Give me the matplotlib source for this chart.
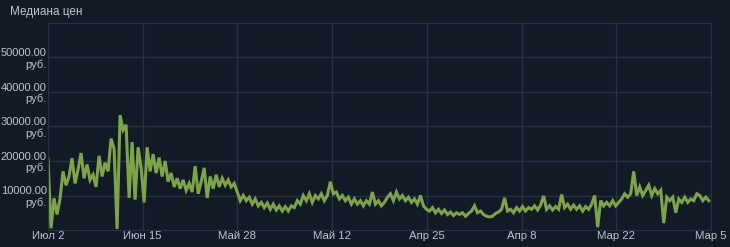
import numpy as np
import matplotlib.pyplot as plt

prices_k = [
    20.5, 0.5, 9.2, 4.5, 9.0, 17.0, 13.0, 15.5, 20.8, 13.5,
    17.5, 22.3, 15.0, 19.0, 14.5, 16.0, 12.5, 21.5, 15.5, 19.5,
    17.0, 26.5, 23.5, 0.3, 33.3, 29.0, 30.5, 9.3, 25.5, 8.8,
    24.0, 18.0, 8.0, 24.0, 17.0, 22.0, 16.5, 21.0, 15.5, 20.0,
    14.0, 16.5, 12.5, 15.0, 12.0, 14.5, 11.5, 13.5, 11.0, 18.5,
    10.5, 14.0, 18.0, 9.3, 15.5, 12.0, 16.0, 12.5, 15.0, 13.0,
    14.5, 12.5, 13.5, 11.0, 8.5, 10.0, 8.5, 9.5, 7.5, 9.0,
    7.0, 8.0, 6.5, 7.8, 6.0, 7.5, 5.8, 7.0, 5.5, 6.8,
    5.5, 7.0, 6.5, 8.5, 7.5, 10.0, 8.5, 10.5, 8.0, 10.0,
    9.0, 10.5, 8.5, 10.0, 14.0, 10.5, 11.0, 9.0, 10.0, 8.5,
    9.5, 7.5, 9.0, 7.5, 8.5, 7.0, 8.5, 7.5, 11.0, 7.5,
    8.5, 7.0, 8.0, 9.5, 10.5, 8.5, 11.0, 9.0, 10.0, 8.5,
    9.5, 8.0, 9.0, 7.5, 10.0, 7.0, 6.0, 5.5, 6.5, 5.0,
    6.0, 4.8, 5.8, 4.5, 5.2, 4.2, 5.0, 4.5, 5.0, 4.0,
    4.8, 5.5, 7.0, 5.0, 5.5, 4.5, 4.0, 3.8, 4.0, 4.8,
    5.2, 6.0, 9.3, 5.5, 6.0, 5.0, 6.5, 5.5, 6.8, 5.5,
    6.5, 6.0, 7.0, 5.8, 7.2, 9.9, 6.0, 7.0, 5.8, 6.8,
    6.0, 10.3, 6.5, 7.5, 6.0, 7.2, 6.0, 7.0, 5.5, 6.8,
    6.0, 7.5, 10.0, 0.8, 8.5, 7.0, 8.0, 7.0, 8.5, 7.0,
    8.0, 9.0, 10.5, 9.5, 10.5, 17.0, 10.0, 12.5, 10.0, 11.5,
    13.0, 10.0, 12.0, 10.5, 11.5, 2.0, 9.5, 8.5, 9.5, 5.0,
    9.0, 8.0, 9.5, 8.0, 9.0, 8.5, 10.5, 10.0, 8.5, 9.5,
    8.5,
]
date_labels = ['Июл 2', 'Июн 15', 'Май 28', 'Май 12', 'Апр 25', 'Апр 8', 'Мар 22', 'Мар 5']
y_ticks = [10000, 20000, 30000, 40000, 50000]

bg = '#121a25'
grid_c = '#263243'
text_c = '#bcc6d0'
line_c = '#7da44b'

plt.rcParams['font.family'] = ['Liberation Sans', 'DejaVu Sans']

prices = np.array(prices_k) * 1000
# one sample every 3 px, a tick every ~94.6 px
samples_per_tick = 94.6 / 3
x = np.arange(len(prices))

fig = plt.figure(figsize=(7.3, 2.47), dpi=100, facecolor=bg)
ax = fig.add_axes([48 / 730, 1 - 230 / 247, (711 - 48) / 730, (230 - 23) / 247])
ax.set_facecolor(bg)

ax.plot(x, prices, color=line_c, lw=2.2, solid_joinstyle='miter')

ax.set_xlim(0, samples_per_tick * 7)
ax.set_ylim(0, 60000)
ax.set_xticks(np.arange(8) * samples_per_tick)
ax.set_xticklabels(date_labels)
ax.set_yticks(y_ticks)
ax.set_yticklabels(['%.2f\nруб.' % v for v in y_ticks], ha='right', linespacing=1.15)

ax.tick_params(axis='both', length=0, colors=text_c, labelsize=8)
ax.tick_params(axis='y', pad=1)
ax.tick_params(axis='x', labelsize=8.2, pad=1)
ax.grid(True, color=grid_c, lw=1)
ax.set_axisbelow(True)
for s in ax.spines.values():
    s.set_color(grid_c)

fig.text(10 / 730, 1 - 12 / 247, 'Медиана цен', color=text_c, fontsize=8.5, va='center')

plt.savefig('out.png', dpi=100, facecolor=bg)
